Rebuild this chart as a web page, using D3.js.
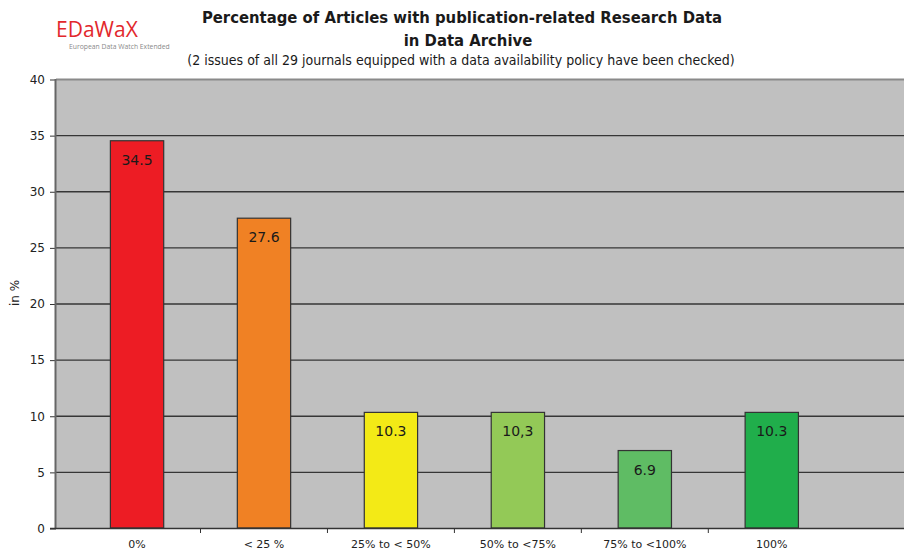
<!DOCTYPE html>
<html>
<head>
<meta charset="utf-8">
<script src="https://cdn.jsdelivr.net/npm/d3@7"></script>
<style>
  body { margin: 0; background: #fff; }
</style>
</head>
<body>
<div id="chart"></div>
<script>
"use strict";

// chart values
const categories = ["0%", "< 25 %", "25% to < 50%", "50% to <75%", "75% to <100%", "100%"];
const values = [34.5, 27.6, 10.3, 10.3, 6.9, 10.3];
const valueLabels = ["34.5", "27.6", "10.3", "10,3", "6.9", "10.3"];
const barColors = ["#ed1c24", "#f08124", "#f3ea16", "#93c957", "#5fbc64", "#20ae4b"];
const yTicks = [0, 5, 10, 15, 20, 25, 30, 35, 40];

const plot = {
    width: 904,
    height: 550,
    left: 56,
    right: 904,
    top: 79,
    bottom: 528
}

const svg = d3.select("#chart")
    .append("svg")
    .attr("width", plot.width)
    .attr("height", plot.height);

let xScale = d3.scaleBand()
    .domain(categories)
    .range([plot.left, plot.right])
    .paddingInner(0.58)
    .paddingOuter(0.63)
    .align(0.34);

let yScale = d3.scaleLinear()
    .domain([0, 40])
    .range([plot.bottom, plot.top]);

// plot background
svg.append("rect")
    .attr("x", plot.left)
    .attr("y", plot.top)
    .attr("width", plot.right - plot.left)
    .attr("height", plot.bottom - plot.top)
    .attr("fill", "#c0c0c0");

// gridlines
svg.selectAll(".grid")
    .data(yTicks.filter((t) => t > 0))
    .enter()
    .append("line")
    .attr("x1", plot.left)
    .attr("x2", plot.right)
    .attr("y1", (d) => yScale(d) + 0.5)
    .attr("y2", (d) => yScale(d) + 0.5)
    .attr("stroke", (d) => d == 40 ? "#8a8a8a" : "#363636")
    .attr("stroke-width", (d) => d == 40 ? 2 : 1.4);

// y axis
let yAxis = d3.axisLeft(yScale)
    .tickValues(yTicks)
    .tickSize(6)
    .tickPadding(5);
let yG = svg.append("g")
    .attr("transform", "translate(" + plot.left + ",0.5)")
    .call(yAxis);
yG.select(".domain").remove();
yG.selectAll("line").attr("stroke", "#333");
yG.selectAll("text")
    .attr("font-family", "DejaVu Sans")
    .attr("font-size", "12px")
    .attr("fill", "#222");

svg.append("line")
    .attr("x1", plot.left - 0.5)
    .attr("x2", plot.left - 0.5)
    .attr("y1", plot.top)
    .attr("y2", plot.bottom + 1)
    .attr("stroke", "#666")
    .attr("stroke-width", 2);

// bars
svg.selectAll(".bar")
    .data(values)
    .enter()
    .append("rect")
    .attr("x", (d, i) => xScale(categories[i]))
    .attr("y", (d) => yScale(d))
    .attr("width", xScale.bandwidth())
    .attr("height", (d) => yScale(0) - yScale(d))
    .attr("fill", (d, i) => barColors[i])
    .attr("stroke", "#333")
    .attr("stroke-width", 1.2);

// value labels
svg.selectAll(".vlabel")
    .data(values)
    .enter()
    .append("text")
    .attr("x", (d, i) => xScale(categories[i]) + xScale.bandwidth() / 2)
    .attr("y", (d) => yScale(d) + 24)
    .attr("text-anchor", "middle")
    .attr("font-family", "DejaVu Sans")
    .attr("font-size", "14px")
    .attr("fill", "#1a1a1a")
    .text((d, i) => valueLabels[i]);

// x axis line and category boundary ticks
svg.append("line")
    .attr("x1", plot.left - 6)
    .attr("x2", plot.right)
    .attr("y1", plot.bottom + 0.5)
    .attr("y2", plot.bottom + 0.5)
    .attr("stroke", "#333")
    .attr("stroke-width", 1.5);

let step = xScale.step();
svg.selectAll(".xtick")
    .data(categories.slice(0, categories.length - 1))
    .enter()
    .append("line")
    .attr("x1", (d) => xScale(d) + xScale.bandwidth() / 2 + step / 2)
    .attr("x2", (d) => xScale(d) + xScale.bandwidth() / 2 + step / 2)
    .attr("y1", plot.bottom)
    .attr("y2", plot.bottom + 5)
    .attr("stroke", "#333");

svg.selectAll(".xlabel")
    .data(categories)
    .enter()
    .append("text")
    .attr("x", (d) => xScale(d) + xScale.bandwidth() / 2)
    .attr("y", 548)
    .attr("text-anchor", "middle")
    .attr("font-family", "DejaVu Sans")
    .attr("font-size", "11px")
    .attr("fill", "#222")
    .text((d) => d);

// y axis title
svg.append("text")
    .attr("transform", "translate(19," + 293 + ") rotate(-90)")
    .attr("text-anchor", "middle")
    .attr("font-family", "DejaVu Sans")
    .attr("font-size", "12px")
    .attr("fill", "#222")
    .text("in %");

// titles
svg.append("text")
    .attr("x", 462)
    .attr("y", 23)
    .attr("text-anchor", "middle")
    .attr("font-family", "DejaVu Sans Condensed, DejaVu Sans")
    .attr("font-weight", "bold")
    .attr("font-size", "16.5px")
    .attr("fill", "#1a1a1a")
    .text("Percentage of Articles with publication-related Research Data");

svg.append("text")
    .attr("x", 468)
    .attr("y", 46)
    .attr("text-anchor", "middle")
    .attr("font-family", "DejaVu Sans Condensed, DejaVu Sans")
    .attr("font-weight", "bold")
    .attr("font-size", "16.5px")
    .attr("fill", "#1a1a1a")
    .text("in Data Archive");

svg.append("text")
    .attr("x", 461)
    .attr("y", 65)
    .attr("text-anchor", "middle")
    .attr("font-family", "DejaVu Sans Condensed, DejaVu Sans")
    .attr("font-size", "14px")
    .attr("fill", "#1a1a1a")
    .text("(2 issues of all 29 journals equipped with a data availability policy have been checked)");

// logo
svg.append("text")
    .attr("x", 56)
    .attr("y", 37)
    .attr("font-family", "Open Sans")
    .attr("font-size", "21px")
    .attr("fill", "#e2282c")
    .text("EDaWaX");

svg.append("text")
    .attr("x", 69)
    .attr("y", 49)
    .attr("font-family", "Open Sans")
    .attr("font-size", "6.8px")
    .attr("fill", "#8a8a8a")
    .text("European Data Watch Extended");
</script>
</body>
</html>
